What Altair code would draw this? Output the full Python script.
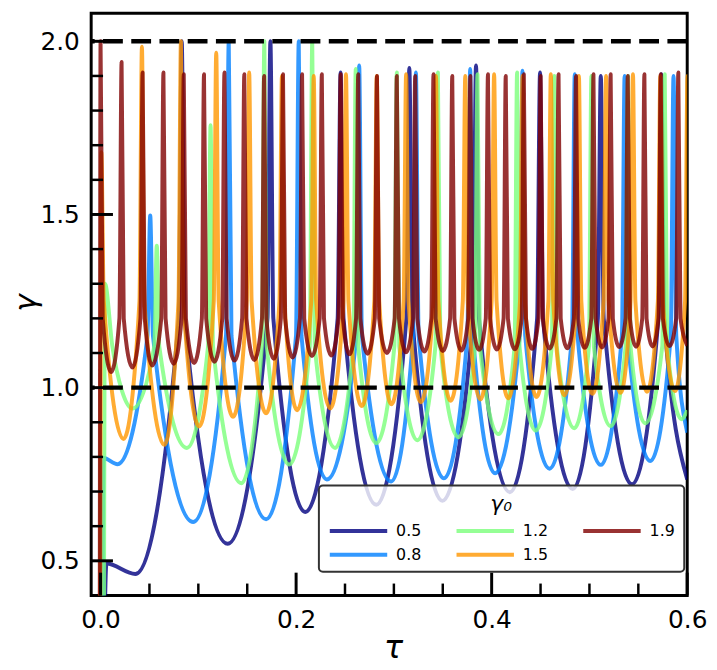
import altair as alt
import pandas as pd

# ---------------- data ----------------
# gamma_0 = 0.5
NAVY_START_T = [0.004, 0.006]
NAVY_START_G = [0.30, 0.492]
NAVY_TROUGH_T = [0.0356, 0.130, 0.2094, 0.282, 0.3496, 0.4187, 0.4829, 0.5436]
NAVY_TROUGH_G = [0.462, 0.549, 0.641, 0.662, 0.673, 0.698, 0.707, 0.721]
NAVY_PEAK_T = [0.0830, 0.1737, 0.2455, 0.3158, 0.3840, 0.4495, 0.5116, 0.5735]
NAVY_PEAK_G = [2.0, 2.0, 1.91, 1.923, 1.93, 1.91, 1.90, 1.905]
NAVY_END_T = [0.6]
NAVY_END_G = [0.735]

# gamma_0 = 0.8
BLUE_START_T = [0.002, 0.003]
BLUE_START_G = [0.30, 0.797]
BLUE_TROUGH_T = [0.0174, 0.0947, 0.1693, 0.2315, 0.2972, 0.3512, 0.4035, 0.4592, 0.5116, 0.5622]
BLUE_TROUGH_G = [0.779, 0.612, 0.620, 0.735, 0.729, 0.738, 0.753, 0.766, 0.777, 0.788]
BLUE_PEAK_T = [0.0508, 0.1311, 0.2027, 0.2645, 0.3225, 0.3780, 0.4315, 0.4850, 0.5360, 0.5860]
BLUE_PEAK_G = [1.497, 2.0, 2.0, 1.93, 1.91, 1.92, 1.915, 1.905, 1.90, 1.90]
BLUE_END_T = [0.6]
BLUE_END_G = [0.87]

# gamma_0 = 1.2
GREEN_START_T = [0.0035, 0.0045, 0.012, 0.022]
GREEN_START_G = [0.30, 1.30, 1.12, 0.99]
GREEN_TROUGH_T = [0.0326, 0.0883, 0.1440, 0.1930, 0.2398, 0.2820, 0.3240, 0.3660,
                  0.4070, 0.4450, 0.4845, 0.5217, 0.5570, 0.5942]
GREEN_TROUGH_G = [0.940, 0.826, 0.724, 0.778, 0.826, 0.840, 0.848, 0.857,
                  0.866, 0.876, 0.883, 0.889, 0.897, 0.909]
GREEN_PEAK_T = [0.0575, 0.1125, 0.1675, 0.2165, 0.2610, 0.3030, 0.3450, 0.3855,
                0.4260, 0.4640, 0.5020, 0.5395, 0.5770]
GREEN_PEAK_G = [1.41, 1.758, 2.0, 2.0, 1.92, 1.91, 1.91, 1.905,
                1.91, 1.90, 1.90, 1.90, 1.905]
GREEN_END_T = [0.6]
GREEN_END_G = [0.935]

# gamma_0 = 1.5
ORANGE_START_T = [-0.0003]
ORANGE_START_G = [0.30]
ORANGE_TROUGH_T = [0.0235, 0.0653, 0.1008, 0.1355, 0.1693, 0.2010, 0.2348, 0.2672, 0.2975,
                   0.3276, 0.3580, 0.3884, 0.4170, 0.4458, 0.4744, 0.5031, 0.5318, 0.5588, 0.5875]
ORANGE_TROUGH_G = [0.852, 0.835, 0.888, 0.916, 0.926, 0.935, 0.940, 0.947, 0.952,
                   0.958, 0.962, 0.966, 0.969, 0.973, 0.978, 0.982, 0.985, 0.988, 0.990]
ORANGE_PEAK_T = [0.0008, 0.0423, 0.0822, 0.1183, 0.1520, 0.1855, 0.2180, 0.2510, 0.2825, 0.3125,
                 0.3430, 0.3730, 0.4025, 0.4315, 0.4605, 0.4892, 0.5170, 0.5445, 0.5725, 0.6003]
ORANGE_PEAK_G = [1.68, 1.984, 2.0, 1.967, 1.91, 1.90, 1.90, 1.905, 1.90, 1.905,
                 1.90, 1.90, 1.905, 1.90, 1.905, 1.90, 1.90, 1.905, 1.90, 1.90]
ORANGE_END_T = []
ORANGE_END_G = []

# gamma_0 = 1.9
RED_START_T = [-0.0008]
RED_START_G = [0.30]
RED_TROUGH_T = [0.0108, 0.0326, 0.0528, 0.0748, 0.0957, 0.1165, 0.1370, 0.1573, 0.1772, 0.1964,
                0.2162, 0.2360, 0.2546, 0.2731, 0.2929, 0.3124, 0.3312, 0.3501, 0.3690, 0.3872,
                0.4053, 0.4237, 0.4415, 0.4593, 0.4774, 0.4952, 0.5129, 0.5305, 0.5477, 0.5646,
                0.5819]
RED_TROUGH_G = [1.045, 1.058, 1.064, 1.069, 1.071, 1.075, 1.078, 1.080, 1.083, 1.087,
                1.091, 1.093, 1.096, 1.098, 1.100, 1.102, 1.104, 1.106, 1.107, 1.109,
                1.110, 1.111, 1.112, 1.113, 1.114, 1.115, 1.116, 1.117, 1.118, 1.119,
                1.120]
RED_PEAK_T = [0.0, 0.0215, 0.0430, 0.0643, 0.0851, 0.1058, 0.1267, 0.1470, 0.1673, 0.1866,
              0.2061, 0.2263, 0.2456, 0.2635, 0.2827, 0.3030, 0.3218, 0.3405, 0.3597, 0.3782,
              0.3962, 0.4144, 0.4329, 0.4501, 0.4684, 0.4863, 0.5041, 0.5217, 0.5392, 0.5562,
              0.5729, 0.5909]
RED_PEAK_G = [2.0, 1.94, 1.91, 1.91, 1.905, 1.905, 1.91, 1.905, 1.90, 1.905,
              1.905, 1.905, 1.905, 1.905, 1.90, 1.90, 1.90, 1.905, 1.90, 1.90,
              1.905, 1.90, 1.905, 1.90, 1.905, 1.90, 1.905, 1.905, 1.90, 1.905,
              1.905, 1.91]
RED_END_T = [0.6]
RED_END_G = [1.121]

# level where each curve's U-shaped valley turns into its narrow spike, and the spike half-width
SPIKE_BASE = {"0.5": 1.20, "0.8": 1.15, "1.2": 1.12, "1.5": 1.25, "1.9": 1.20}
SPIKE_HALF = {"0.5": 0.0030, "0.8": 0.0028, "1.2": 0.0025, "1.5": 0.0025, "1.9": 0.0022}

SERIES = ["0.5", "0.8", "1.2", "1.5", "1.9"]
COLORS = ["#000080", "#0080ff", "#7bff7b", "#ff9700", "#800000"]

X_MAJOR = [0.0, 0.2, 0.4, 0.6]
X_MINOR = [0.05, 0.1, 0.15, 0.25, 0.3, 0.35, 0.45, 0.5, 0.55]
Y_MAJOR = [0.5, 1.0, 1.5, 2.0]
Y_MINOR = [0.6, 0.7, 0.8, 0.9, 1.1, 1.2, 1.3, 1.4, 1.6, 1.7, 1.8, 1.9]
DASHED = [1.0, 2.0]

RAW = {
    "0.5": (NAVY_START_T, NAVY_START_G, NAVY_TROUGH_T, NAVY_TROUGH_G, NAVY_PEAK_T, NAVY_PEAK_G, NAVY_END_T, NAVY_END_G),
    "0.8": (BLUE_START_T, BLUE_START_G, BLUE_TROUGH_T, BLUE_TROUGH_G, BLUE_PEAK_T, BLUE_PEAK_G, BLUE_END_T, BLUE_END_G),
    "1.2": (GREEN_START_T, GREEN_START_G, GREEN_TROUGH_T, GREEN_TROUGH_G, GREEN_PEAK_T, GREEN_PEAK_G, GREEN_END_T, GREEN_END_G),
    "1.5": (ORANGE_START_T, ORANGE_START_G, ORANGE_TROUGH_T, ORANGE_TROUGH_G, ORANGE_PEAK_T, ORANGE_PEAK_G, ORANGE_END_T, ORANGE_END_G),
    "1.9": (RED_START_T, RED_START_G, RED_TROUGH_T, RED_TROUGH_G, RED_PEAK_T, RED_PEAK_G, RED_END_T, RED_END_G),
}


def build(label):
    st, sg, tt, tg, pt, pg, et, eg = RAW[label]
    base, half = SPIKE_BASE[label], SPIKE_HALF[label]
    events = sorted([(t, g, "T") for t, g in zip(tt, tg)] + [(t, g, "P") for t, g in zip(pt, pg)])
    pts = list(zip(st, sg))
    for i, (t, g, kind) in enumerate(events):
        if kind == "T":
            pts.append((t, g))
        else:
            if t - half > pts[-1][0]:
                pts.append((t - half, base))
            pts.append((t, g))
            nxt = events[i + 1][0] if i + 1 < len(events) else (et[0] if et else 1.0)
            if t + half < nxt:
                pts.append((t + half, base))
    pts += list(zip(et, eg))
    return [{"tau": t, "gamma": g, "series": label} for t, g in pts]


rows = []
for s in SERIES:
    rows += build(s)
df = pd.DataFrame(rows)

FONT = "DejaVu Sans"
W, H = 602, 588
xscale = alt.Scale(domain=[-0.0096, 0.6], nice=False, zero=False)
yscale = alt.Scale(domain=[0.4, 2.081], nice=False, zero=False)

x_axis = alt.Axis(values=X_MAJOR, format=".1f", ticks=False, domain=False, grid=False,
                  labelFontSize=25, labelPadding=12, labelFlush=False, labelOverlap=False,
                  labelColor="black", labelFont=FONT,
                  title="τ", titleFontSize=32, titleFontStyle="italic", titleFontWeight="normal",
                  titleFont=FONT, titleColor="black", titleX=305, titleY=63,
                  titleBaseline="alphabetic", titleAlign="center")
y_axis = alt.Axis(values=Y_MAJOR, format=".1f", ticks=False, domain=False, grid=False,
                  labelFontSize=25, labelPadding=12, labelColor="black", labelFont=FONT,
                  title="γ", titleFontSize=30, titleFontStyle="italic", titleFontWeight="normal",
                  titleFont=FONT, titleColor="black", titleX=-65, titleY=292, titleAngle=270,
                  titleBaseline="middle", titleAlign="center")

X_ENC = alt.X("tau:Q", scale=xscale, axis=x_axis)
Y_ENC = alt.Y("gamma:Q", scale=yscale, axis=y_axis)

legend = alt.Legend(title="γ₀", orient="none", legendX=230, legendY=477, columns=3,
                    symbolType="M-2.9,0L2.9,0", symbolSize=400, symbolStrokeWidth=4,
                    symbolOpacity=0.8, symbolOffset=19,
                    labelFontSize=16, labelFont=FONT, labelColor="black", labelOffset=26,
                    columnPadding=27, rowPadding=4, padding=9,
                    fillColor="rgba(255,255,255,0.8)", cornerRadius=4,
                    titleFontSize=22, titleFont=FONT, titleFontWeight="normal", titleFontStyle="italic",
                    titleAnchor="middle", titlePadding=3, titleColor="black")

color = alt.Color("series:N", scale=alt.Scale(domain=SERIES, range=COLORS), legend=legend)

layers = []
for s in SERIES:
    layers.append(
        alt.Chart(df).transform_filter(alt.datum.series == s)
        .mark_line(strokeWidth=4, opacity=0.8, interpolate="monotone", clip=True, strokeJoin="round")
        .encode(x=X_ENC, y=Y_ENC, color=color, order=alt.Order("tau:Q"))
    )

dashed = alt.Chart(pd.DataFrame({"gamma": DASHED})).mark_rule(
    color="black", strokeWidth=4.5, strokeDash=[20, 8.5]
).encode(y=Y_ENC)

xmaj = alt.Chart(pd.DataFrame({"tau": X_MAJOR})).mark_rule(color="black", strokeWidth=3).encode(
    x=X_ENC, y=alt.value(H), y2=alt.value(H - 23))
xmin = alt.Chart(pd.DataFrame({"tau": X_MINOR})).mark_rule(color="black", strokeWidth=2.5).encode(
    x=X_ENC, y=alt.value(H), y2=alt.value(H - 12))
ymaj = alt.Chart(pd.DataFrame({"gamma": Y_MAJOR})).mark_rule(color="black", strokeWidth=3).encode(
    y=Y_ENC, x=alt.value(0), x2=alt.value(22))
ymin = alt.Chart(pd.DataFrame({"gamma": Y_MINOR})).mark_rule(color="black", strokeWidth=2.5).encode(
    y=Y_ENC, x=alt.value(0), x2=alt.value(12))

chart = alt.layer(*layers, dashed, xmaj, xmin, ymaj, ymin).properties(
    width=W, height=H,
    autosize=alt.AutoSizeParams(type="none"),
    padding={"left": 84, "top": 2, "right": 22, "bottom": 72},
    background="white",
).configure_view(stroke="black", strokeWidth=3).configure_legend(
    strokeColor="#333333", strokeWidth=2
)

chart.save("out.html", embed_options={"renderer": "svg", "actions": False})
